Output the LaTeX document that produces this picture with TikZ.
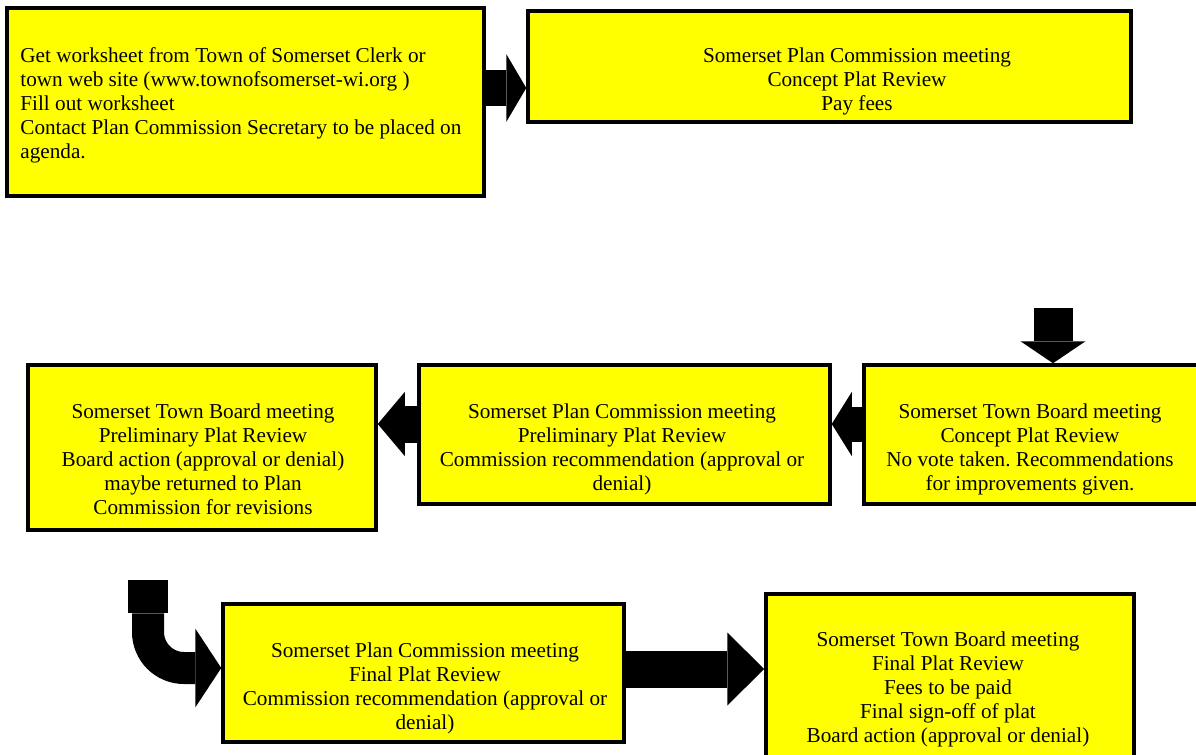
\documentclass[tikz,border=0pt]{standalone}
\usepackage{fontspec}
\setmainfont{Liberation Serif}
\usetikzlibrary{arrows.meta, fit}
\definecolor{boxyellow}{RGB}{255,255,0}
\frenchspacing

\begin{document}
\begin{tikzpicture}[x=0.5pt, y=-0.5pt]

\tikzset{box/.style = {draw, line width=1.75pt, fill=boxyellow, inner sep=0pt}}
\tikzset{txt/.style = {anchor=north, align=center, inner sep=0pt, font=\fontsize{10.6}{12}\selectfont}}
\tikzset{fat/.style n args = {3}{draw=black, line width=#1, -{Triangle[length=#3, width=#2, line width=0pt]}}}

\clip (0,0) rectangle (1196,755);

%boxes
\node[box, fit={(7,8) (484,196)}] (sheet) {};
\node[box, fit={(528,11) (1131,122)}] (plancon) {};
\node[box, fit={(864,365) (1215,504)}] (boardcon) {};
\node[box, fit={(419,365) (830,504)}] (planpre) {};
\node[box, fit={(28,365) (376,530)}] (boardpre) {};
\node[box, fit={(223,604) (624,742)}] (planfin) {};
\node[box, fit={(766,594) (1134,780)}] (boardfin) {};

%texts
\node[txt, anchor=north west, align=left] (sheettxt) at (20,47) {Get worksheet from Town of Somerset Clerk or\\town web site (www.townofsomerset-wi.org )\\Fill out worksheet\\Contact Plan Commission Secretary to be placed on\\agenda.};
\node[txt] (plancontxt) at (857,47) {Somerset Plan Commission meeting\\Concept Plat Review\\Pay fees};
\node[txt] (boardcontxt) at (1030,403) {Somerset Town Board meeting\\Concept Plat Review\\No vote taken. Recommendations\\for improvements given.};
\node[txt] (planpretxt) at (622,403) {Somerset Plan Commission meeting\\Preliminary Plat Review\\Commission recommendation (approval or\\denial)};
\node[txt] (boardpretxt) at (203,403) {Somerset Town Board meeting\\Preliminary Plat Review\\Board action (approval or denial)\\maybe returned to Plan\\Commission for revisions};
\node[txt] (planfintxt) at (425,642) {Somerset Plan Commission meeting\\Final Plat Review\\Commission recommendation (approval or\\denial)};
\node[txt] (boardfintxt) at (948,631) {Somerset Town Board meeting\\Final Plat Review\\Fees to be paid\\Final sign-off of plat\\Board action (approval or denial)};

%arrows
\coordinate (drop) at (1053,308);
\node[fill=black, inner sep=0pt, minimum width=20pt, minimum height=16.5pt] (cap) at (148,596.5) {};

\draw[fat={18pt}{34pt}{10pt}] (sheet.east |- 0,88) -- (plancon.west |- 0,88);
\draw[fat={19.5pt}{32.5pt}{11pt}] (drop) -- (drop |- boardcon.north);
\draw[fat={17.5pt}{32pt}{10pt}] (boardcon.west |- 0,424) -- (planpre.east |- 0,424);
\draw[fat={18.5pt}{32pt}{13.5pt}] (planpre.west |- 0,424) -- (boardpre.east |- 0,424);
\draw[fat={16pt}{39.5pt}{13pt}, rounded corners=18pt] (cap.south) -- (cap.south |- 0,668) -- (planfin.west |- 0,668);
\draw[fat={18.5pt}{36.5pt}{18.5pt}] (planfin.east |- 0,669) -- (boardfin.west |- 0,669);

\end{tikzpicture}
\end{document}
